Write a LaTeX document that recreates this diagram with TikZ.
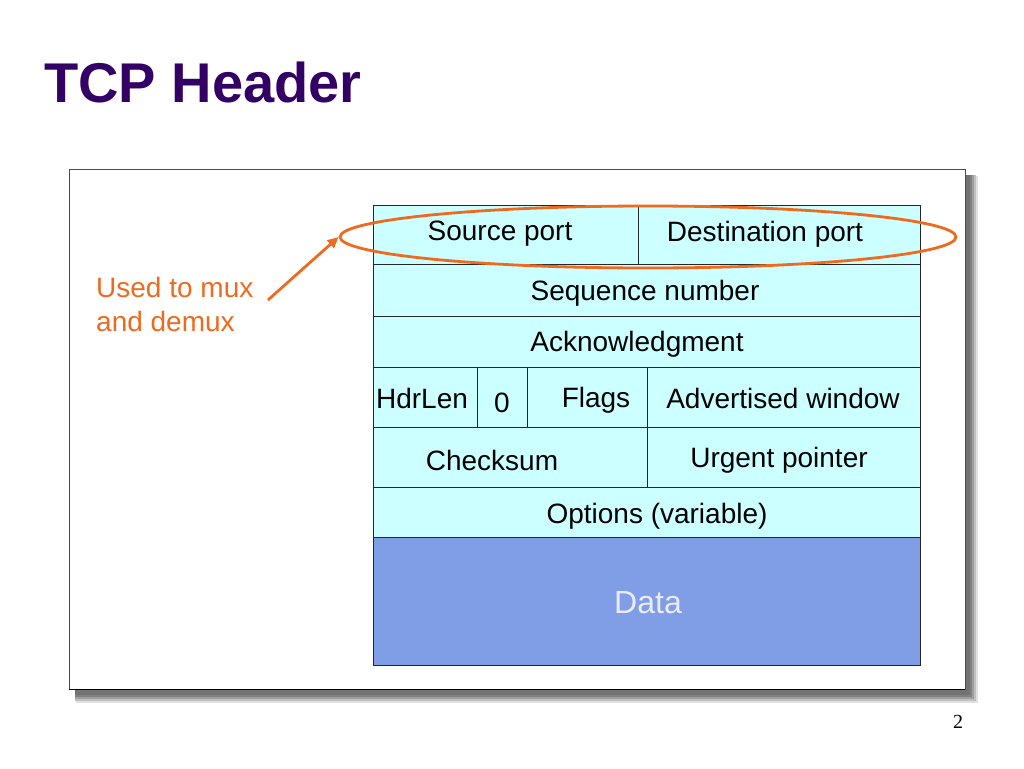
\documentclass[tikz,border=0pt]{standalone}
\usepackage{fontspec}
\setmainfont{Liberation Sans}
\newfontfamily\seriffont{Liberation Serif}
\usetikzlibrary{shapes.geometric,arrows.meta}
\definecolor{titlec}{HTML}{330066}
\definecolor{cellc}{HTML}{CCFFFF}
\definecolor{datac}{HTML}{7F9EE6}
\definecolor{orangec}{HTML}{EE6A1E}
\begin{document}
\begin{tikzpicture}[x=1pt,y=-1pt,
  cell/.style={draw=black!85,line width=0.9pt,fill=cellc},
  lbl/.style={inner sep=0pt,font=\fontsize{28}{32}\selectfont,text=black},
  divider/.style={draw=black!85,line width=0.9pt}]
\useasboundingbox (0,0) rectangle (1024,768);
\fill[white] (0,0) rectangle (1024,768);
% title
\node[anchor=base west,inner sep=0pt,text=titlec,font=\fontsize{56}{60}\selectfont\bfseries] (title) at (44,102) {TCP Header};
% frame with shadow
\fill[black!12] (76,176) rectangle (978,703);
\fill[black!25] (75,175) rectangle (976,701);
\fill[black!38] (75,175) rectangle (974,699);
\fill[black!50] (75,175) rectangle (972,697);
\fill[black!55] (75,175) rectangle (970,695);
\draw[fill=white,draw=black!70,line width=1pt] (69,169) rectangle (965,689);
\draw[black,line width=1pt] (69,689) -- (965,689);
% table rows
\draw[cell] (373,205) rectangle (920,264);
\draw[cell] (373,264) rectangle (920,316);
\draw[cell] (373,316) rectangle (920,367);
\draw[cell] (373,367) rectangle (920,427);
\draw[cell] (373,427) rectangle (920,487);
\draw[cell] (373,487) rectangle (920,537);
\draw[draw=black!85,line width=0.9pt,fill=datac] (373,537) rectangle (920,665);
% dividers
\draw[divider] (638,205) -- (638,264);
\draw[divider] (477,367) -- (477,427);
\draw[divider] (527,367) -- (527,427);
\draw[divider] (647,367) -- (647,487);
% labels
\node[lbl] (src) at (500,234) {Source port};
\node[lbl] (dst) at (765,234) {Destination port};
\node[lbl] (seq) at (645,293) {Sequence number};
\node[lbl] (ack) at (637,344) {Acknowledgment};
\node[lbl] (hdr) at (422,398) {HdrLen};
\node[lbl] (zero) at (502,403) {0};
\node[lbl] (flags) at (596,400) {Flags};
\node[lbl] (adv) at (783,398) {Advertised window};
\node[lbl] (chk) at (492,460) {Checksum};
\node[lbl] (urg) at (779,460) {Urgent pointer};
\node[lbl] (opt) at (657,516) {Options (variable)};
\node[lbl,text=white!92!blue,font=\fontsize{32}{36}\selectfont] (data) at (648,603) {Data};
% ellipse
\node[ellipse,draw=orangec,line width=2.8pt,minimum width=616pt,minimum height=62pt,inner sep=0pt] (ring) at (648,237) {};
% note
\node[anchor=north west,align=left,inner sep=0pt,text=orangec,font=\fontsize{28}{34}\selectfont] (note) at (96,277) {Used to mux\\and demux};
\coordinate (nstart) at (268,300);
\draw[orangec,line width=2.8pt,-{Triangle[length=11pt,width=10pt]}] (nstart) -- (ring.west);
% page number
\node[anchor=base,inner sep=0pt,font=\seriffont\fontsize{20}{24}\selectfont] (pg) at (958,728) {2};
\end{tikzpicture}
\end{document}
